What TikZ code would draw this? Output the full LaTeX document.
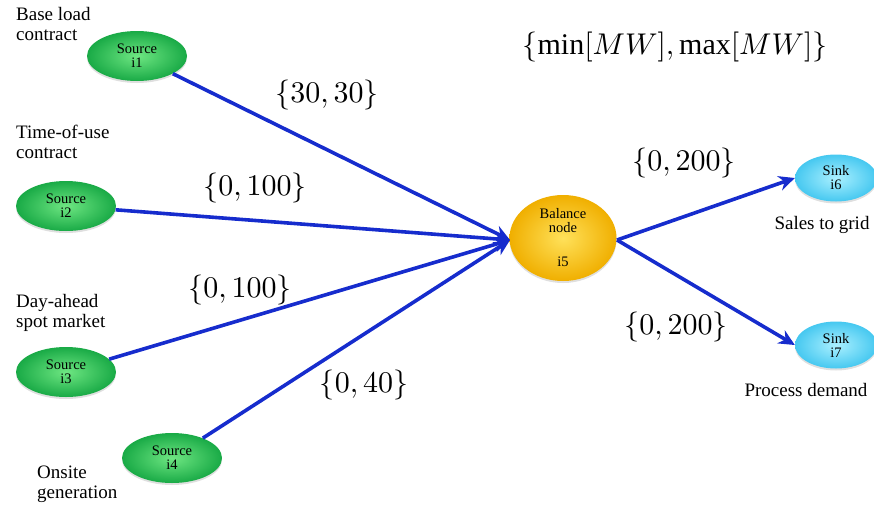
\documentclass[tikz,border=0pt]{standalone}
\usepackage{fontspec}
\setmainfont{Liberation Serif}
\usetikzlibrary{shapes.geometric,arrows.meta,shadows}
\definecolor{flowblue}{RGB}{22,44,205}
\definecolor{srcin}{RGB}{110,230,130}
\definecolor{srcout}{RGB}{25,170,70}
\definecolor{balin}{RGB}{255,225,90}
\definecolor{balout}{RGB}{240,175,0}
\definecolor{skin}{RGB}{170,240,255}
\definecolor{skout}{RGB}{70,200,240}
\newcommand{\flowbound}[1]{\scalebox{3.0}{$#1$}}
\tikzset{
  x=1pt, y=-1pt,
  blob/.style={ellipse, inner sep=0pt, align=center, font=\fontsize{14.5}{14}\selectfont,
    drop shadow={shadow xshift=0pt, shadow yshift=-2pt, opacity=0.25}},
  source/.style={blob, minimum width=100pt, minimum height=50pt, inner color=srcin, outer color=srcout},
  balance/.style={blob, minimum width=107pt, minimum height=86pt, inner color=balin, outer color=balout},
  sink/.style={blob, minimum width=82pt, minimum height=47pt, inner color=skin, outer color=skout},
  caption/.style={align=left, font=\fontsize{19}{20}\selectfont, inner sep=0pt},
  bound/.style={font=\fontsize{10}{10}\selectfont, inner sep=0pt},
  flow/.style={draw=flowblue, line width=3.6pt, -{Stealth[length=16pt, width=15pt]}}
}
\begin{document}
\begin{tikzpicture}
\useasboundingbox (0,0) rectangle (874,506);

% nodes
\node[source] (i1) at (137,56) {Source\\i1};
\node[source] (i2) at (66,206) {Source\\i2};
\node[source] (i3) at (66,372) {Source\\i3};
\node[source] (i4) at (172,458) {Source\\i4};
\node[balance] (i5) at (563,238) {Balance\\node\\[20pt]i5};
\node[sink] (i6) at (836,178) {Sink\\i6};
\node[sink] (i7) at (836,345) {Sink\\i7};

% captions
\node[caption, anchor=north west] (c1) at (16,7) {Base load\\contract};
\node[caption, anchor=north west] (c2) at (16,125) {Time-of-use\\contract};
\node[caption, anchor=north west] (c3) at (16,294) {Day-ahead\\spot market};
\node[caption, anchor=north west] (c4) at (37,466) {Onsite\\generation};
\node[caption] (c6) at (822,225) {Sales to grid};
\node[caption] (c7) at (806,390) {Process demand};

% flows into and out of the balance node
\coordinate (in5) at (510,240);
\coordinate (out5) at (617,240);
\draw[flow] (i1) -- (in5);
\draw[flow] (i2) -- (in5);
\draw[flow] (i3) -- (in5);
\draw[flow] (i4) -- (in5);
\draw[flow] (out5) -- (i6.west);
\draw[flow] (out5) -- (i7.west);

% bounds on the flows
\node[bound] (b1) at (327,95) {\flowbound{\{30,30\}}};
\node[bound] (b2) at (255,188) {\flowbound{\{0,100\}}};
\node[bound] (b3) at (240,290) {\flowbound{\{0,100\}}};
\node[bound] (b4) at (364,385) {\flowbound{\{0,40\}}};
\node[bound] (b6) at (684,163) {\flowbound{\{0,200\}}};
\node[bound] (b7) at (676,327) {\flowbound{\{0,200\}}};
\node[bound] (hdr) at (675,47) {\flowbound{\{\min[MW],\max[MW]\}}};
\end{tikzpicture}
\end{document}
